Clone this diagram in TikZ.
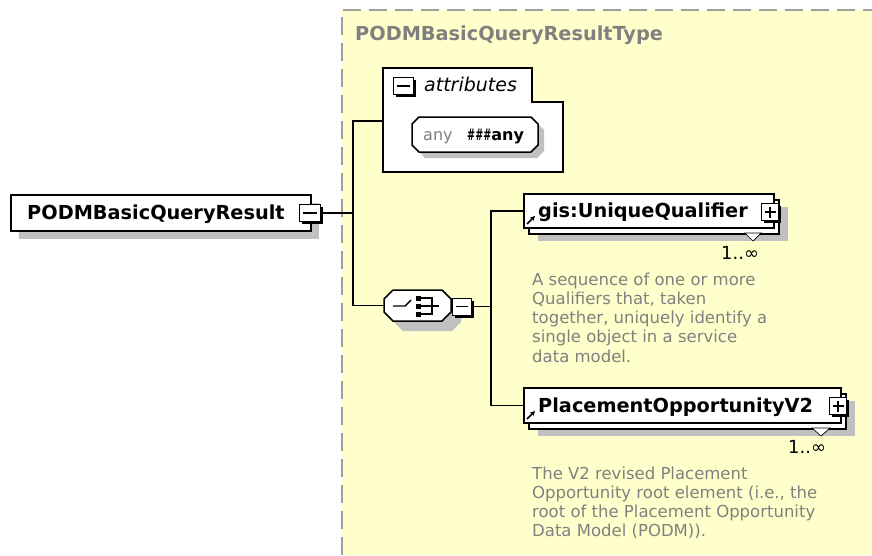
\documentclass[tikz,border=0pt]{standalone}
\usepackage{fontspec}
\setmainfont{DejaVu Sans}
\usepackage{graphicx}
\usetikzlibrary{shadows,arrows.meta}
\definecolor{panel}{HTML}{FFFFCC}
\definecolor{dashgray}{HTML}{A0A0A0}
\definecolor{txtgray}{HTML}{808080}
\definecolor{shgray}{HTML}{C0C0C0}
% octagon: x, y (top left), width, height, chamfer
\newcommand\octat[5]{(#1+#5,#2) -- (#1+#3-#5,#2) -- (#1+#3,#2+#5) -- (#1+#3,#2+#4-#5) -- (#1+#3-#5,#2+#4) -- (#1+#5,#2+#4) -- (#1,#2+#4-#5) -- (#1,#2+#5) -- cycle}
\tikzset{
  box/.style={draw=black, fill=white, line width=1.5pt},
  elem/.style={box, inner sep=0pt, anchor=north west},
  conn/.style={draw=black, line width=1.5pt},
  icon/.style={draw=black, fill=white, line width=1.2pt, minimum width=20pt, minimum height=17pt, inner sep=0pt, anchor=north west,
    drop shadow={shadow xshift=2.5pt, shadow yshift=-2.5pt, fill=black, opacity=1}},
  iconmark/.style={line width=1.4pt},
  lbl/.style={inner sep=0pt, anchor=base west, font=\fontsize{19.3}{22}\selectfont\bfseries},
  ttl/.style={lbl, text=txtgray},
  desc/.style={inner sep=0pt, anchor=north west, align=left, text=txtgray, font=\fontsize{16.5}{19.25}\selectfont},
  mult/.style={inner sep=0pt, anchor=base west, font=\fontsize{18}{20}\selectfont},
  sm/.style={inner sep=0pt, anchor=base west, font=\fontsize{16}{19}\selectfont},
  invis/.style={inner sep=0pt, anchor=north west},
  reficon/.style={-{Stealth[length=5pt,width=5pt]}, line width=1.5pt},
  drop/.style={line width=0.7pt, fill=white}
}
\begin{document}
\begin{tikzpicture}[x=1pt,y=-1pt]
\useasboundingbox (0,0) rectangle (872,555);
\fill[white] (0,0) rectangle (872,555);
% type panel
\fill[panel] (342,10) rectangle (872,555);
\draw[dashgray, line width=2pt, dash pattern=on 18pt off 8pt] (342,555) -- (342,10) -- (872,10);
\node[ttl] (title) at (355,40) {PODMBasicQueryResultType};

% root element
\node[elem, minimum width=300pt, minimum height=36pt,
  drop shadow={shadow xshift=8pt, shadow yshift=-8pt, fill=shgray, opacity=1}] (root) at (10,194) {};
\node[lbl] (rootlbl) at (27,219) {PODMBasicQueryResult};
\node[icon, minimum width=21pt] (rootic) at (299,204) {};
\draw[iconmark] ([xshift=4pt]rootic.west) -- ([xshift=-4pt]rootic.east);

% attributes box
\draw[box] (383,68) -- (532,68) -- (532,102) -- (563,102) -- (563,172) -- (383,172) -- cycle;
\coordinate (attrin) at (383,121);
\node[icon] (attric) at (393,77) {};
\draw[iconmark] ([xshift=4pt]attric.west) -- ([xshift=-4pt]attric.east);
\node[inner sep=0pt, anchor=base west, font=\fontsize{19}{22}\selectfont\itshape] (attrlbl) at (424,91.5) {attributes};
% any attribute
\fill[shgray] \octat{418}{123}{126}{35}{7};
\draw[box] \octat{412}{117}{126}{35}{7};
\node[invis, minimum width=126pt, minimum height=35pt] (anyattr) at (412,117) {};
\node[sm, text=txtgray] (anylbl) at (423,140.5) {any};
\node[sm, font=\fontsize{16}{19}\selectfont\bfseries] (anyns) at (467,140.5) {\scalebox{0.6}[1]{\#\#\#}any};

% sequence compositor
\fill[shgray] \octat{394}{300}{67}{31}{9};
\draw[box] \octat{384}{290}{67}{31}{9};
\node[invis, minimum width=67pt, minimum height=31pt] (seq) at (384,290) {};
\draw[line width=1.4pt] (393,306) -- (405,306) -- (411,300);
\fill (416,295.5) rectangle (421,300.5);
\fill (416,303.5) rectangle (421,308.5);
\fill (416,311.5) rectangle (421,316.5);
\draw[line width=1.4pt] (421,298) -- (432,298) -- (432,314) -- (421,314);
\draw[line width=1.4pt] (421,306) -- (439,306);
\node[icon, minimum width=19pt] (seqic) at (452,297.5) {};
\draw[iconmark] ([xshift=4pt]seqic.west) -- ([xshift=-4pt]seqic.east);

% connectors from root
\coordinate (j1) at (353,0);
\draw[conn] (rootic.east) -- (rootic.east -| j1);
\draw[conn] (attrin) -| (j1 |- seq.west) -- (seq.west);

% gis:UniqueQualifier
\node[elem, minimum width=250pt, minimum height=34pt,
  drop shadow={shadow xshift=14pt, shadow yshift=-13pt, fill=shgray, opacity=1},
  copy shadow={shadow xshift=5pt, shadow yshift=-6pt, draw=black, fill=white, line width=1.5pt}] (gis) at (523,193) {};
\node[lbl] (gislbl) at (538,217) {gis:UniqueQualifier};
\draw[reficon] (527,224) -- (535,216);
\node[icon, minimum width=17pt] (gisic) at (761,203) {};
\draw[iconmark] ([xshift=3.5pt]gisic.west) -- ([xshift=-3.5pt]gisic.east);
\draw[iconmark] ([yshift=-3.5pt]gisic.north) -- ([yshift=3.5pt]gisic.south);
\draw[drop] (745,233) -- (761,233) -- (753,241) -- cycle;
\node[mult] (gismult) at (721,259) {1..∞};
\node[desc] (gisdesc) at (532,272.5) {A sequence of one or more\\Qualifiers that, taken\\together, uniquely identify a\\single object in a service\\data model.};

% PlacementOpportunityV2
\node[elem, minimum width=317pt, minimum height=35pt,
  drop shadow={shadow xshift=14pt, shadow yshift=-13pt, fill=shgray, opacity=1},
  copy shadow={shadow xshift=5pt, shadow yshift=-6pt, draw=black, fill=white, line width=1.5pt}] (po) at (523,387) {};
\node[lbl] (polbl) at (538,412) {PlacementOpportunityV2};
\draw[reficon] (527,419) -- (535,411);
\node[icon, minimum width=17pt] (poic) at (829,397) {};
\draw[iconmark] ([xshift=3.5pt]poic.west) -- ([xshift=-3.5pt]poic.east);
\draw[iconmark] ([yshift=-3.5pt]poic.north) -- ([yshift=3.5pt]poic.south);
\draw[drop] (812,428) -- (830,428) -- (821,436) -- cycle;
\node[mult] (pomult) at (788,453) {1..∞};
\node[desc] (podesc) at (532,466.5) {The V2 revised Placement\\Opportunity root element (i.e., the\\root of the Placement Opportunity\\Data Model (PODM)).};

% connectors from sequence
\coordinate (j2) at (491,0);
\draw[conn] (seqic.east) -- (seqic.east -| j2);
\draw[conn] (gis.west) -| (j2 |- po.west) -- (po.west);
\end{tikzpicture}
\end{document}
